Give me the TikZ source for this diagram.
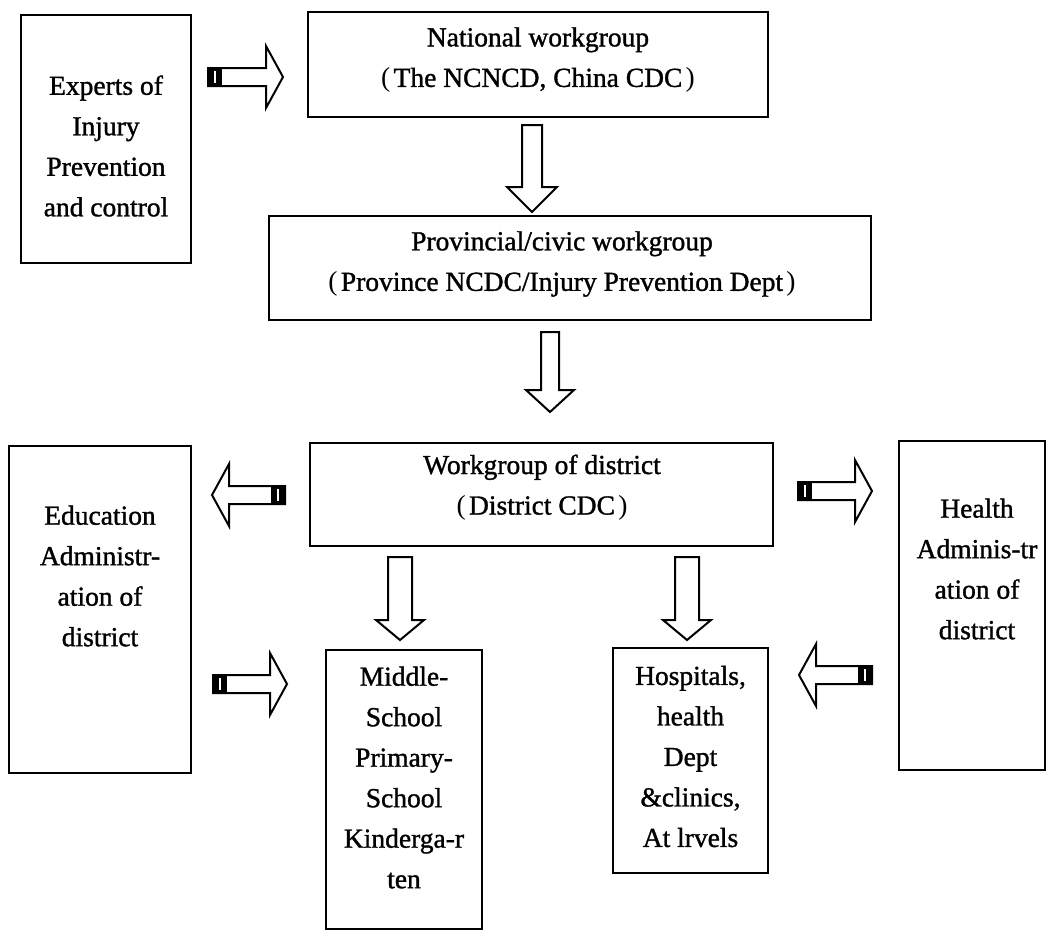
\documentclass[tikz,border=0pt]{standalone}
\usepackage{fontspec}
\setmainfont{Liberation Serif}
\newfontfamily\heavyfont{Liberation Serif}[BoldFont={Liberation Serif}, BoldFeatures={FakeBold=1.2}]
\newcommand\lp{\hspace*{0.45em}{\mdseries(}\hspace{0.12em}}
\newcommand\rp{\hspace{0.12em}{\mdseries)}\hspace*{0.45em}}
\newcommand\rarr[3]{%
  \draw[arr] ({#1},{#2-9}) -- ({#3-17},{#2-9}) -- ({#3-17},{#2-31}) -- ({#3},{#2}) -- ({#3-17},{#2+31}) -- ({#3-17},{#2+9}) -- ({#1},{#2+9}) -- cycle;
  \fill ({#1},{#2-9}) rectangle ({#1+14},{#2+9});
  \fill[white] ({#1+6},{#2-6}) rectangle ({#1+8},{#2+6});}
\newcommand\larr[3]{%
  \draw[arr] ({#1},{#2-9}) -- ({#3+17},{#2-9}) -- ({#3+17},{#2-31}) -- ({#3},{#2}) -- ({#3+17},{#2+31}) -- ({#3+17},{#2+9}) -- ({#1},{#2+9}) -- cycle;
  \fill ({#1-14},{#2-9}) rectangle ({#1},{#2+9});
  \fill[white] ({#1-8},{#2-6}) rectangle ({#1-6},{#2+6});}
\newcommand\darr[6]{%
  \draw[arr] ({#1-#4},{#2}) -- ({#1+#4},{#2}) -- ({#1+#4},{#3-#6}) -- ({#1+#5},{#3-#6}) -- ({#1},{#3}) -- ({#1-#5},{#3-#6}) -- ({#1-#4},{#3-#6}) -- cycle;}
\begin{document}
\begin{tikzpicture}[x=1pt,y=-1pt,
  box/.style={draw, line width=1.4pt, inner sep=0pt},
  txt/.style={align=center, font=\heavyfont\bfseries\fontsize{27.5}{40.5}\selectfont, inner sep=0pt},
  arr/.style={draw, line width=2pt, fill=white, line join=miter}]
\useasboundingbox[fill=white] (0,0) rectangle (1048,932);
% boxes
\node[box, minimum width=170pt, minimum height=248pt] (experts) at (106,139) {};
\node[box, minimum width=460pt, minimum height=105pt] (national) at (538,64.5) {};
\node[box, minimum width=602pt, minimum height=104pt] (provincial) at (570,268) {};
\node[box, minimum width=463pt, minimum height=103pt] (district) at (541.5,494.5) {};
\node[box, minimum width=182pt, minimum height=327pt] (education) at (100,609.5) {};
\node[box, minimum width=146pt, minimum height=329pt] (health) at (972,605.5) {};
\node[box, minimum width=156pt, minimum height=279pt] (schools) at (404,789.5) {};
\node[box, minimum width=155pt, minimum height=225pt] (hospitals) at (690.5,760.5) {};
% texts
\node[txt] (experts-t) at (106,146) {Experts of\\Injury\\Prevention\\and control};
\node[txt] (national-t) at (538,60) {National workgroup\\\lp The NCNCD, China CDC\rp};
\node[txt] (provincial-t) at (562,264) {Provincial/civic workgroup\\\lp Province NCDC/Injury Prevention Dept\rp};
\node[txt] (district-t) at (542,487.5) {Workgroup of district\\\lp District CDC\rp};
\node[txt] (education-t) at (100,576) {Education\\Administr-\\ation of\\district};
\node[txt] (health-t) at (977,569) {Health\\Adminis-tr\\ation of\\district};
\node[txt] (schools-t) at (404,777.5) {Middle-\\School\\Primary-\\School\\Kinderga-r\\ten};
\node[txt] (hospitals-t) at (690.5,756.5) {Hospitals,\\health\\Dept\\\&clinics,\\At lrvels};
% block arrows
\rarr{208}{77}{283}
\larr{285}{495}{212}
\rarr{213}{684}{287}
\rarr{798}{491}{872}
\larr{872}{675}{799}
\darr{532}{125}{212}{10}{25}{25}
\darr{550}{332}{412}{9}{24}{22}
\darr{400}{557}{640}{12}{24}{20}
\darr{687}{557}{640}{12}{24}{20}
\end{tikzpicture}
\end{document}
